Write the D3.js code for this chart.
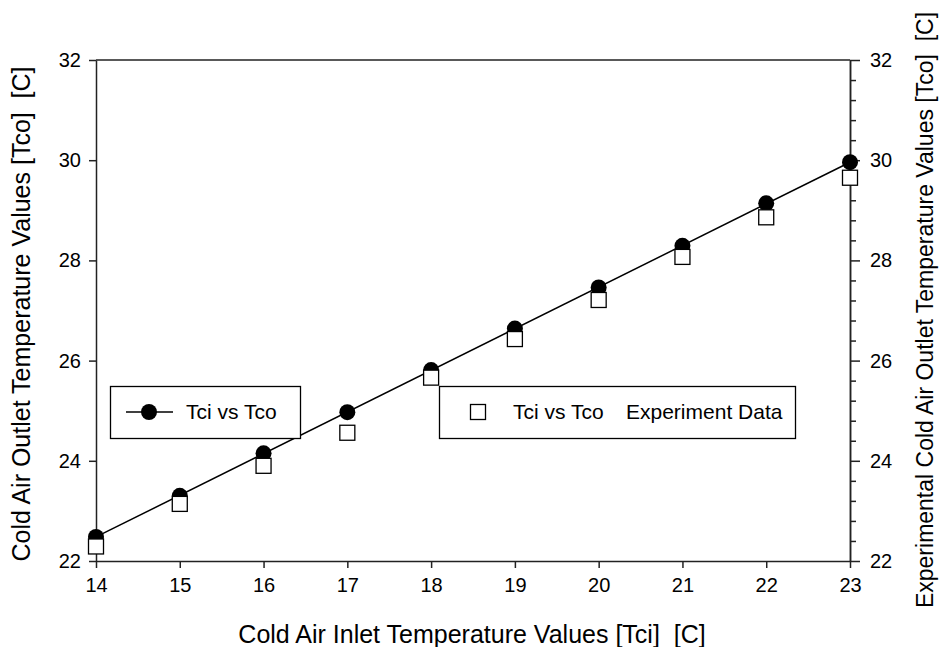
<!DOCTYPE html>
<html lang="en">
<head>
<meta charset="utf-8">
<title>Tci vs Tco</title>
<script src="https://cdn.jsdelivr.net/npm/d3@7"></script>
<style>
  body { margin: 0; background: #fff; }
  svg text { font-family: Arial, "Liberation Sans", sans-serif; fill: #000; }
  .axis path, .axis line { stroke: #222; stroke-width: 1.5; }
  .lbl { font-size: 25px; white-space: pre; }
  .leg { font-size: 21px; }
</style>
</head>
<body>
<svg width="943" height="647"></svg>
<script>
var tci = [14, 15, 16, 17, 18, 19, 20, 21, 22, 23];
var tcoModel = [22.48, 23.30, 24.15, 24.97, 25.81, 26.64, 27.46, 28.29, 29.14, 29.96];
var tcoExp = [22.29, 23.14, 23.90, 24.56, 25.66, 26.43, 27.21, 28.07, 28.86, 29.65];
var xTicks = [14, 15, 16, 17, 18, 19, 20, 21, 22, 23];
var yTicks = [22, 24, 26, 28, 30, 32];

var svg = d3.select("svg");
var pLeft = 96, pRight = 850, pTop = 60, pBottom = 561;

var x = d3.scaleLinear().domain([14, 23]).range([pLeft, pRight]);
var y = d3.scaleLinear().domain([22, 32]).range([pBottom, pTop]);

// top border
svg.append("line")
  .attr("x1", pLeft).attr("x2", pRight).attr("y1", pTop).attr("y2", pTop)
  .attr("stroke", "#222").attr("stroke-width", 1.5);

svg.append("g").attr("class", "axis")
  .attr("transform", "translate(0," + pBottom + ")")
  .call(d3.axisBottom(x).tickValues(xTicks).tickSize(7).tickSizeOuter(0).tickPadding(10));

svg.append("g").attr("class", "axis")
  .attr("transform", "translate(" + pLeft + ",0)")
  .call(d3.axisLeft(y).tickValues(yTicks).tickSize(7).tickSizeOuter(0).tickPadding(8));

// right axis: minor ticks then majors
var minor = d3.range(22, 32.01, 0.4).filter(function(v) { return Math.abs(v / 2 - Math.round(v / 2)) > 0.01; });
svg.append("g").attr("class", "axis")
  .attr("transform", "translate(" + pRight + ",0)")
  .call(d3.axisRight(y).tickValues(minor).tickSize(6).tickSizeOuter(0).tickFormat(""));
svg.append("g").attr("class", "axis")
  .attr("transform", "translate(" + pRight + ",0)")
  .call(d3.axisRight(y).tickValues(yTicks).tickSize(10).tickSizeOuter(0).tickPadding(10));

svg.selectAll(".axis").attr("font-size", null).attr("font-family", null);
svg.selectAll(".axis .tick text").style("font-size", "20px");

// straight line through the model points
var ends = [0, tci.length - 1];
svg.append("path")
  .datum(ends)
  .attr("d", d3.line().x(function(i) { return x(tci[i]); }).y(function(i) { return y(tcoModel[i]); }))
  .attr("fill", "none").attr("stroke", "#000").attr("stroke-width", 1.5);

svg.append("g").selectAll("circle")
  .data(tcoModel).enter().append("circle")
  .attr("cx", function(d, i) { return x(tci[i]); })
  .attr("cy", function(d) { return y(d); })
  .attr("r", 8).attr("fill", "#000");

svg.append("g").selectAll("rect")
  .data(tcoExp).enter().append("rect")
  .attr("x", function(d, i) { return x(tci[i]) - 7.5; })
  .attr("y", function(d) { return y(d) - 7.5; })
  .attr("width", 15).attr("height", 15)
  .attr("fill", "#fff").attr("stroke", "#000").attr("stroke-width", 1.3);

// legends
var l1 = svg.append("g");
l1.append("rect").attr("x", 110.5).attr("y", 386.5).attr("width", 190).attr("height", 52)
  .attr("fill", "#fff").attr("stroke", "#000").attr("stroke-width", 1.3);
l1.append("line").attr("x1", 126).attr("x2", 173).attr("y1", 412).attr("y2", 412)
  .attr("stroke", "#000").attr("stroke-width", 1.5);
l1.append("circle").attr("cx", 149).attr("cy", 412).attr("r", 8).attr("fill", "#000");
l1.append("text").attr("class", "leg").attr("x", 186).attr("y", 419).text("Tci vs Tco");

var l2 = svg.append("g");
l2.append("rect").attr("x", 439.5).attr("y", 386.5).attr("width", 356).attr("height", 52)
  .attr("fill", "#fff").attr("stroke", "#000").attr("stroke-width", 1.3);
l2.append("rect").attr("x", 470.5).attr("y", 404.5).attr("width", 15).attr("height", 15)
  .attr("fill", "#fff").attr("stroke", "#000").attr("stroke-width", 1.3);
l2.append("text").attr("class", "leg").attr("x", 513).attr("y", 419).text("Tci vs Tco");
l2.append("text").attr("class", "leg").attr("x", 626).attr("y", 419).text("Experiment Data");

// axis titles
svg.append("text").attr("class", "lbl").attr("text-anchor", "middle")
  .attr("x", 472).attr("y", 643)
  .text("Cold Air Inlet Temperature Values [Tci]  [C]");
svg.append("text").attr("class", "lbl").attr("text-anchor", "middle")
  .attr("transform", "translate(30,314) rotate(-90)")
  .text("Cold Air Outlet Temperature Values [Tco]  [C]");
svg.append("text").attr("class", "lbl").attr("text-anchor", "middle")
  .style("font-size", "23px")
  .attr("transform", "translate(933,310) rotate(-90)")
  .text("Experimental Cold Air Outlet Temperature Values [Tco]  [C]");
</script>
</body>
</html>
